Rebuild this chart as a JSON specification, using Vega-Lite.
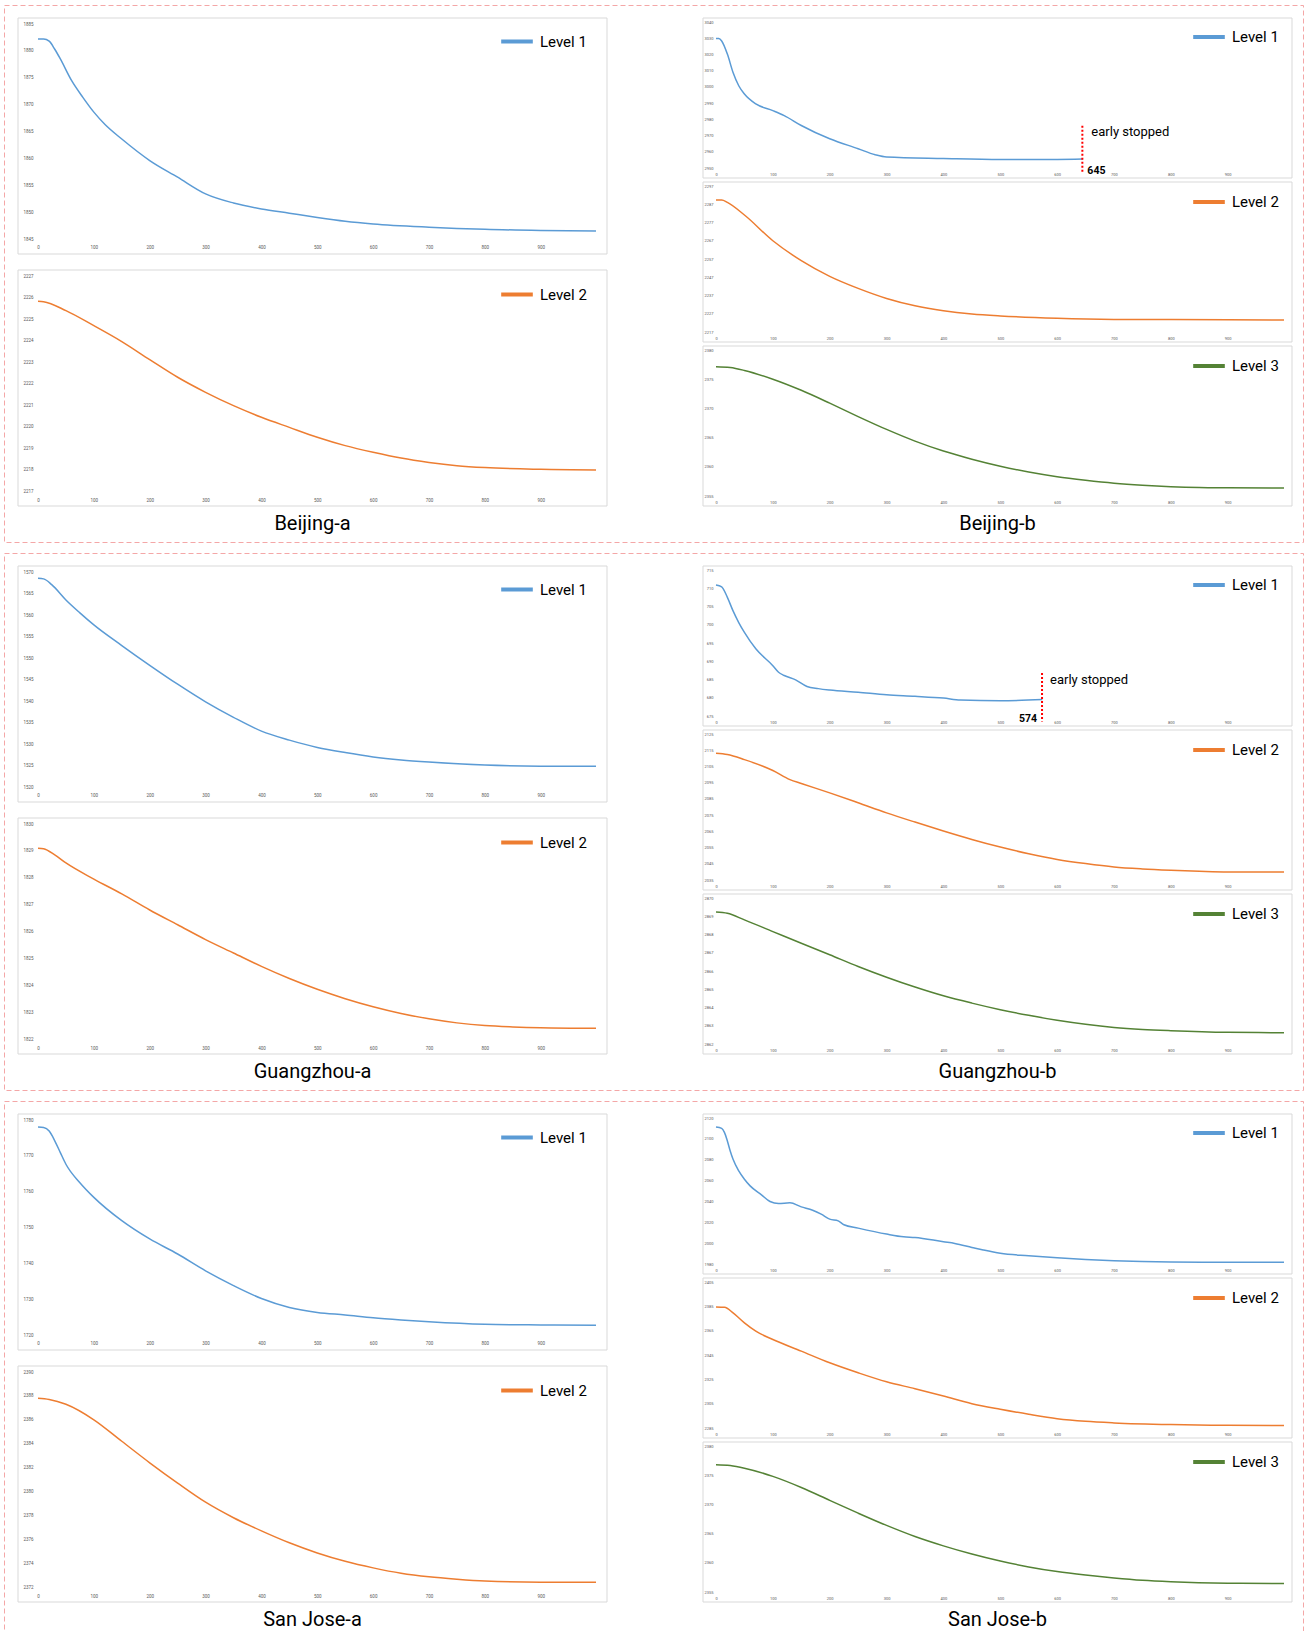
{
  "$schema": "https://vega.github.io/schema/vega-lite/v6.json",
  "background": "white",
  "padding": {"left": 3, "top": 4, "right": 3, "bottom": 0},
  "config": {
    "font": "Roboto",
    "axis": {"ticks": false, "domain": false, "labelFontSize": 4.5, "labelColor": "#595959", "labelPadding": 2, "labelFlush": false, "labelOverlap": false, "labelBound": false},
    "axisX": {"grid": false},
    "axisY": {"grid": true, "gridColor": "#e6e6e6", "gridWidth": 1},
    "legend": {"orient": "none", "symbolType": "stroke", "symbolSize": 1000, "symbolStrokeWidth": 4, "labelFontSize": 15, "labelColor": "#000000", "labelOffset": 5, "padding": 0, "labelFont": "Roboto"},
    "line": {"interpolate": "monotone"}
  },
  "datasets": {
    "bja1": [{"iter":0,"loss":1882.2},{"iter":10,"loss":1882.2},{"iter":20,"loss":1881.8},{"iter":30,"loss":1880.3},{"iter":40,"loss":1878.5},{"iter":60,"loss":1874.5},{"iter":80,"loss":1871.4},{"iter":100,"loss":1868.6},{"iter":120,"loss":1866.3},{"iter":150,"loss":1863.6},{"iter":200,"loss":1859.6},{"iter":250,"loss":1856.5},{"iter":300,"loss":1853.4},{"iter":350,"loss":1851.7},{"iter":400,"loss":1850.6},{"iter":450,"loss":1849.8},{"iter":500,"loss":1849.0},{"iter":550,"loss":1848.3},{"iter":600,"loss":1847.8},{"iter":700,"loss":1847.2},{"iter":800,"loss":1846.8},{"iter":900,"loss":1846.6},{"iter":999,"loss":1846.5}],
    "bja2": [{"iter":0,"loss":2225.82},{"iter":10,"loss":2225.8},{"iter":50,"loss":2225.39},{"iter":100,"loss":2224.69},{"iter":150,"loss":2223.95},{"iter":200,"loss":2223.11},{"iter":250,"loss":2222.29},{"iter":300,"loss":2221.59},{"iter":350,"loss":2220.97},{"iter":400,"loss":2220.43},{"iter":450,"loss":2219.96},{"iter":500,"loss":2219.5},{"iter":550,"loss":2219.11},{"iter":600,"loss":2218.8},{"iter":650,"loss":2218.53},{"iter":700,"loss":2218.33},{"iter":750,"loss":2218.18},{"iter":800,"loss":2218.09},{"iter":900,"loss":2218.01},{"iter":999,"loss":2217.98}],
    "bjb1": [{"iter":0,"loss":3029.8},{"iter":5,"loss":3029.8},{"iter":10,"loss":3028.3},{"iter":20,"loss":3020.2},{"iter":30,"loss":3008.9},{"iter":40,"loss":3000.7},{"iter":50,"loss":2995.6},{"iter":70,"loss":2989.5},{"iter":100,"loss":2985.4},{"iter":120,"loss":2982.3},{"iter":150,"loss":2976.2},{"iter":200,"loss":2968.0},{"iter":250,"loss":2961.9},{"iter":280,"loss":2958.2},{"iter":300,"loss":2956.8},{"iter":400,"loss":2955.9},{"iter":500,"loss":2955.3},{"iter":600,"loss":2955.3},{"iter":645,"loss":2955.5}],
    "bjb2": [{"iter":0,"loss":2289.3},{"iter":10,"loss":2289.3},{"iter":20,"loss":2288.0},{"iter":50,"loss":2281.1},{"iter":100,"loss":2267.0},{"iter":150,"loss":2256.1},{"iter":200,"loss":2247.5},{"iter":250,"loss":2240.9},{"iter":300,"loss":2235.4},{"iter":350,"loss":2231.4},{"iter":400,"loss":2228.7},{"iter":450,"loss":2226.9},{"iter":500,"loss":2225.8},{"iter":600,"loss":2224.5},{"iter":700,"loss":2223.9},{"iter":800,"loss":2223.8},{"iter":999,"loss":2223.6}],
    "bjb3": [{"iter":0,"loss":2377.15},{"iter":25,"loss":2377.0},{"iter":50,"loss":2376.5},{"iter":100,"loss":2375.0},{"iter":150,"loss":2373.1},{"iter":200,"loss":2370.9},{"iter":250,"loss":2368.6},{"iter":300,"loss":2366.4},{"iter":350,"loss":2364.4},{"iter":400,"loss":2362.7},{"iter":450,"loss":2361.3},{"iter":500,"loss":2360.1},{"iter":550,"loss":2359.1},{"iter":600,"loss":2358.3},{"iter":650,"loss":2357.7},{"iter":700,"loss":2357.2},{"iter":750,"loss":2356.85},{"iter":800,"loss":2356.6},{"iter":850,"loss":2356.45},{"iter":900,"loss":2356.4},{"iter":999,"loss":2356.35}],
    "gza1": [{"iter":0,"loss":1568.55},{"iter":10,"loss":1568.4},{"iter":25,"loss":1567.0},{"iter":50,"loss":1563.5},{"iter":75,"loss":1560.5},{"iter":100,"loss":1557.7},{"iter":150,"loss":1552.9},{"iter":200,"loss":1548.3},{"iter":250,"loss":1543.9},{"iter":300,"loss":1539.8},{"iter":350,"loss":1536.2},{"iter":400,"loss":1533.0},{"iter":450,"loss":1530.9},{"iter":500,"loss":1529.2},{"iter":550,"loss":1528.0},{"iter":600,"loss":1527.0},{"iter":650,"loss":1526.3},{"iter":700,"loss":1525.8},{"iter":800,"loss":1525.1},{"iter":900,"loss":1524.85},{"iter":999,"loss":1524.8}],
    "gza2": [{"iter":0,"loss":1829.1},{"iter":10,"loss":1829.08},{"iter":30,"loss":1828.85},{"iter":50,"loss":1828.55},{"iter":100,"loss":1827.95},{"iter":150,"loss":1827.4},{"iter":200,"loss":1826.8},{"iter":250,"loss":1826.25},{"iter":300,"loss":1825.7},{"iter":350,"loss":1825.2},{"iter":400,"loss":1824.7},{"iter":450,"loss":1824.25},{"iter":500,"loss":1823.85},{"iter":550,"loss":1823.5},{"iter":600,"loss":1823.2},{"iter":650,"loss":1822.95},{"iter":700,"loss":1822.75},{"iter":750,"loss":1822.6},{"iter":800,"loss":1822.5},{"iter":850,"loss":1822.45},{"iter":900,"loss":1822.42},{"iter":999,"loss":1822.4}],
    "gzb1": [{"iter":0,"loss":710.9},{"iter":10,"loss":710.4},{"iter":20,"loss":707.5},{"iter":30,"loss":703.8},{"iter":40,"loss":700.6},{"iter":50,"loss":697.9},{"iter":70,"loss":693.4},{"iter":100,"loss":688.8},{"iter":110,"loss":687.0},{"iter":120,"loss":686.1},{"iter":140,"loss":684.9},{"iter":160,"loss":683.1},{"iter":180,"loss":682.5},{"iter":200,"loss":682.1},{"iter":250,"loss":681.5},{"iter":300,"loss":680.8},{"iter":350,"loss":680.4},{"iter":400,"loss":679.9},{"iter":430,"loss":679.4},{"iter":500,"loss":679.2},{"iter":574,"loss":679.5}],
    "gzb2": [{"iter":0,"loss":2113.1},{"iter":20,"loss":2112.3},{"iter":50,"loss":2109.2},{"iter":100,"loss":2102.5},{"iter":130,"loss":2096.9},{"iter":150,"loss":2094.5},{"iter":200,"loss":2088.7},{"iter":250,"loss":2082.6},{"iter":300,"loss":2076.4},{"iter":350,"loss":2070.7},{"iter":400,"loss":2065.2},{"iter":450,"loss":2060.0},{"iter":500,"loss":2055.3},{"iter":550,"loss":2051.2},{"iter":600,"loss":2047.7},{"iter":650,"loss":2045.1},{"iter":700,"loss":2043.0},{"iter":750,"loss":2041.8},{"iter":800,"loss":2041.0},{"iter":850,"loss":2040.4},{"iter":900,"loss":2040.0},{"iter":999,"loss":2040.0}],
    "gzb3": [{"iter":0,"loss":2869.23},{"iter":20,"loss":2869.16},{"iter":50,"loss":2868.8},{"iter":100,"loss":2868.16},{"iter":150,"loss":2867.52},{"iter":200,"loss":2866.89},{"iter":250,"loss":2866.25},{"iter":300,"loss":2865.66},{"iter":350,"loss":2865.12},{"iter":400,"loss":2864.64},{"iter":450,"loss":2864.24},{"iter":500,"loss":2863.88},{"iter":550,"loss":2863.57},{"iter":600,"loss":2863.3},{"iter":650,"loss":2863.08},{"iter":700,"loss":2862.91},{"iter":750,"loss":2862.8},{"iter":800,"loss":2862.73},{"iter":900,"loss":2862.64},{"iter":999,"loss":2862.62}],
    "sja1": [{"iter":0,"loss":1778.05},{"iter":10,"loss":1777.9},{"iter":20,"loss":1776.9},{"iter":30,"loss":1774.2},{"iter":40,"loss":1770.9},{"iter":50,"loss":1767.65},{"iter":75,"loss":1762.5},{"iter":100,"loss":1758.4},{"iter":150,"loss":1751.9},{"iter":200,"loss":1746.8},{"iter":250,"loss":1742.6},{"iter":300,"loss":1737.9},{"iter":350,"loss":1733.8},{"iter":400,"loss":1730.2},{"iter":450,"loss":1727.7},{"iter":500,"loss":1726.3},{"iter":550,"loss":1725.6},{"iter":600,"loss":1724.8},{"iter":650,"loss":1724.2},{"iter":700,"loss":1723.7},{"iter":800,"loss":1723.0},{"iter":900,"loss":1722.8},{"iter":999,"loss":1722.7}],
    "sja2": [{"iter":0,"loss":2387.8},{"iter":20,"loss":2387.7},{"iter":50,"loss":2387.3},{"iter":100,"loss":2386.0},{"iter":150,"loss":2384.2},{"iter":200,"loss":2382.4},{"iter":250,"loss":2380.7},{"iter":300,"loss":2379.1},{"iter":350,"loss":2377.8},{"iter":400,"loss":2376.7},{"iter":450,"loss":2375.7},{"iter":500,"loss":2374.85},{"iter":550,"loss":2374.15},{"iter":600,"loss":2373.6},{"iter":650,"loss":2373.15},{"iter":700,"loss":2372.85},{"iter":750,"loss":2372.65},{"iter":800,"loss":2372.5},{"iter":900,"loss":2372.4},{"iter":999,"loss":2372.4}],
    "sjb1": [{"iter":0,"loss":2111.4},{"iter":10,"loss":2110.1},{"iter":15,"loss":2106.0},{"iter":20,"loss":2098.0},{"iter":25,"loss":2088.4},{"iter":30,"loss":2080.4},{"iter":40,"loss":2069.3},{"iter":50,"loss":2061.3},{"iter":60,"loss":2054.9},{"iter":80,"loss":2046.3},{"iter":95,"loss":2039.9},{"iter":110,"loss":2038.0},{"iter":130,"loss":2038.7},{"iter":150,"loss":2034.8},{"iter":170,"loss":2031.6},{"iter":185,"loss":2027.8},{"iter":200,"loss":2023.0},{"iter":215,"loss":2021.4},{"iter":225,"loss":2017.6},{"iter":250,"loss":2014.4},{"iter":300,"loss":2008.7},{"iter":330,"loss":2006.1},{"iter":350,"loss":2005.5},{"iter":400,"loss":2001.3},{"iter":420,"loss":1999.7},{"iter":450,"loss":1995.9},{"iter":470,"loss":1993.4},{"iter":500,"loss":1990.2},{"iter":550,"loss":1987.9},{"iter":600,"loss":1986.0},{"iter":650,"loss":1984.4},{"iter":700,"loss":1983.2},{"iter":800,"loss":1981.9},{"iter":900,"loss":1981.6},{"iter":999,"loss":1981.6}],
    "sjb2": [{"iter":0,"loss":2384.5},{"iter":15,"loss":2384.2},{"iter":30,"loss":2379.6},{"iter":50,"loss":2371.4},{"iter":70,"loss":2364.6},{"iter":100,"loss":2357.7},{"iter":150,"loss":2348.2},{"iter":200,"loss":2338.6},{"iter":250,"loss":2330.4},{"iter":300,"loss":2323.0},{"iter":350,"loss":2317.3},{"iter":400,"loss":2311.3},{"iter":450,"loss":2305.0},{"iter":500,"loss":2300.4},{"iter":550,"loss":2296.3},{"iter":600,"loss":2292.7},{"iter":650,"loss":2290.5},{"iter":700,"loss":2289.2},{"iter":800,"loss":2287.8},{"iter":900,"loss":2287.2},{"iter":999,"loss":2287.0}],
    "sjb3": [{"iter":0,"loss":2376.8},{"iter":25,"loss":2376.65},{"iter":50,"loss":2376.2},{"iter":100,"loss":2374.8},{"iter":150,"loss":2372.9},{"iter":200,"loss":2370.7},{"iter":250,"loss":2368.5},{"iter":300,"loss":2366.4},{"iter":350,"loss":2364.5},{"iter":400,"loss":2362.9},{"iter":450,"loss":2361.5},{"iter":500,"loss":2360.3},{"iter":550,"loss":2359.3},{"iter":600,"loss":2358.5},{"iter":650,"loss":2357.9},{"iter":700,"loss":2357.4},{"iter":750,"loss":2357.0},{"iter":800,"loss":2356.75},{"iter":900,"loss":2356.5},{"iter":999,"loss":2356.45}]
  },
  "spacing": 9,
  "vconcat": [
    {
      "width": 1299, "height": 537,
      "view": {"stroke": "#f4a7a7", "strokeDash": [5, 3], "strokeWidth": 1},
      "resolve": {"scale": {"x": "independent", "y": "independent", "color": "independent"}, "axis": {"x": "independent", "y": "independent"}, "legend": {"color": "independent"}},
      "layer": [
        {"resolve": {"scale": {"x": "independent", "y": "independent"}},
         "layer": [
           {"data": {"values": [{}]}, "mark": {"type": "rect", "filled": false, "stroke": "#d9d9d9", "strokeWidth": 1},
            "encoding": {"x": {"datum": 0, "type": "quantitative", "scale": {"domain": [0, 1], "range": [14, 603]}, "axis": null}, "x2": {"datum": 1}, "y": {"datum": 0, "type": "quantitative", "scale": {"domain": [0, 1], "range": [249, 13]}, "axis": null}, "y2": {"datum": 1}}},
           {"data": {"name": "bja1"}, "mark": "line",
            "encoding": {
              "x": {"field": "iter", "type": "quantitative", "scale": {"domain": [0, 999], "range": [34, 592]}, "axis": {"orient": "bottom", "values": [0,100,200,300,400,500,600,700,800,900], "offset": -299.5, "title": null, "format": "d"}},
              "y": {"field": "loss", "type": "quantitative", "scale": {"domain": [1845, 1885], "range": [234, 19], "zero": false, "nice": false}, "axis": {"orient": "left", "values": [1845,1850,1855,1860,1865,1870,1875,1880,1885], "offset": -31, "title": null, "format": "d"}},
              "strokeWidth": {"value": 1.5},
              "color": {"datum": "Level 1", "scale": {"domain": ["Level 1"], "range": ["#5b9bd5"]}, "legend": {"title": null, "legendX": 495, "legendY": 18.5}}
            }}
         ]},
        {"resolve": {"scale": {"x": "independent", "y": "independent"}},
         "layer": [
           {"data": {"values": [{}]},
            "layer": [
              {"mark": {"type": "rect", "filled": false, "stroke": "#d9d9d9", "strokeWidth": 1},
               "encoding": {"x": {"datum": 0, "type": "quantitative", "scale": {"domain": [0, 1], "range": [14, 603]}, "axis": null}, "x2": {"datum": 1}, "y": {"datum": 0, "type": "quantitative", "scale": {"domain": [0, 1], "range": [501, 265]}, "axis": null}, "y2": {"datum": 1}}},
              {"mark": {"type": "text", "fontSize": 20, "baseline": "middle", "dy": 18, "color": "#000000"},
               "encoding": {"x": {"datum": 0.5, "type": "quantitative", "axis": null}, "y": {"datum": 0, "type": "quantitative", "axis": null}, "text": {"value": "Beijing-a"}}}
            ]},
           {"data": {"name": "bja2"}, "mark": "line",
            "encoding": {
              "x": {"field": "iter", "type": "quantitative", "scale": {"domain": [0, 999], "range": [34, 592]}, "axis": {"orient": "bottom", "values": [0,100,200,300,400,500,600,700,800,900], "offset": -47, "title": null, "format": "d"}},
              "y": {"field": "loss", "type": "quantitative", "scale": {"domain": [2217, 2227], "range": [486, 271], "zero": false, "nice": false}, "axis": {"orient": "left", "values": [2217,2218,2219,2220,2221,2222,2223,2224,2225,2226,2227], "offset": -31, "title": null, "format": "d"}},
              "strokeWidth": {"value": 1.5},
              "color": {"datum": "Level 2", "scale": {"domain": ["Level 2"], "range": ["#ed7d31"]}, "legend": {"title": null, "legendX": 495, "legendY": 271.5}}
            }}
         ]},
        {"resolve": {"scale": {"x": "independent", "y": "independent"}},
         "layer": [
           {"data": {"values": [{}]}, "mark": {"type": "rect", "filled": false, "stroke": "#d9d9d9", "strokeWidth": 1},
            "encoding": {"x": {"datum": 0, "type": "quantitative", "scale": {"domain": [0, 1], "range": [699, 1288]}, "axis": null}, "x2": {"datum": 1}, "y": {"datum": 0, "type": "quantitative", "scale": {"domain": [0, 1], "range": [173, 13]}, "axis": null}, "y2": {"datum": 1}}},
           {"data": {"name": "bjb1"}, "mark": "line",
            "encoding": {
              "x": {"field": "iter", "type": "quantitative", "scale": {"domain": [0, 999], "range": [712, 1280]}, "axis": {"orient": "bottom", "values": [0,100,200,300,400,500,600,700,800,900], "offset": -372, "title": null, "format": "d", "labelFontSize": 4}},
              "y": {"field": "loss", "type": "quantitative", "scale": {"domain": [2950, 3040], "range": [163, 17], "zero": false, "nice": false}, "axis": {"orient": "left", "values": [2950,2960,2970,2980,2990,3000,3010,3020,3030,3040], "offset": -711, "title": null, "format": "d", "labelFontSize": 4}},
              "strokeWidth": {"value": 1.5},
              "color": {"datum": "Level 1", "scale": {"domain": ["Level 1"], "range": ["#5b9bd5"]}, "legend": {"title": null, "legendX": 1187, "legendY": 14}}
            }},
           {"data": {"values": [{"stop": 645}]},
            "layer": [
              {"mark": {"type": "rule", "color": "#ff0000", "strokeWidth": 2, "strokeDash": [2, 2]},
               "encoding": {"x": {"field": "stop", "type": "quantitative", "scale": {"domain": [0, 999], "range": [712, 1280]}, "axis": null}, "y": {"datum": 2976, "type": "quantitative", "scale": {"domain": [2950, 3040], "range": [163, 17], "zero": false, "nice": false}, "axis": null}, "y2": {"datum": 2947}}},
              {"mark": {"type": "text", "align": "left", "baseline": "middle", "dx": 9, "fontSize": 13, "color": "#000000"},
               "encoding": {"x": {"field": "stop", "type": "quantitative", "axis": null}, "y": {"datum": 2972.5, "type": "quantitative", "axis": null}, "text": {"value": "early stopped"}}},
              {"mark": {"type": "text", "align": "left", "baseline": "middle", "dx": 5, "fontSize": 10.5, "fontWeight": "bold", "color": "#000000"},
               "encoding": {"x": {"field": "stop", "type": "quantitative", "axis": null}, "y": {"datum": 2948, "type": "quantitative", "axis": null}, "text": {"field": "stop", "type": "quantitative", "format": "d"}}}
            ]}
         ]},
        {"resolve": {"scale": {"x": "independent", "y": "independent"}},
         "layer": [
           {"data": {"values": [{}]}, "mark": {"type": "rect", "filled": false, "stroke": "#d9d9d9", "strokeWidth": 1},
            "encoding": {"x": {"datum": 0, "type": "quantitative", "scale": {"domain": [0, 1], "range": [699, 1288]}, "axis": null}, "x2": {"datum": 1}, "y": {"datum": 0, "type": "quantitative", "scale": {"domain": [0, 1], "range": [337, 177]}, "axis": null}, "y2": {"datum": 1}}},
           {"data": {"name": "bjb2"}, "mark": "line",
            "encoding": {
              "x": {"field": "iter", "type": "quantitative", "scale": {"domain": [0, 999], "range": [712, 1280]}, "axis": {"orient": "bottom", "values": [0,100,200,300,400,500,600,700,800,900], "offset": -208, "title": null, "format": "d", "labelFontSize": 4}},
              "y": {"field": "loss", "type": "quantitative", "scale": {"domain": [2217, 2297], "range": [327, 181], "zero": false, "nice": false}, "axis": {"orient": "left", "values": [2217,2227,2237,2247,2257,2267,2277,2287,2297], "offset": -711, "title": null, "format": "d", "labelFontSize": 4}},
              "strokeWidth": {"value": 1.5},
              "color": {"datum": "Level 2", "scale": {"domain": ["Level 2"], "range": ["#ed7d31"]}, "legend": {"title": null, "legendX": 1187, "legendY": 179}}
            }}
         ]},
        {"resolve": {"scale": {"x": "independent", "y": "independent"}},
         "layer": [
           {"data": {"values": [{}]},
            "layer": [
              {"mark": {"type": "rect", "filled": false, "stroke": "#d9d9d9", "strokeWidth": 1},
               "encoding": {"x": {"datum": 0, "type": "quantitative", "scale": {"domain": [0, 1], "range": [699, 1288]}, "axis": null}, "x2": {"datum": 1}, "y": {"datum": 0, "type": "quantitative", "scale": {"domain": [0, 1], "range": [501, 341]}, "axis": null}, "y2": {"datum": 1}}},
              {"mark": {"type": "text", "fontSize": 20, "baseline": "middle", "dy": 18, "color": "#000000"},
               "encoding": {"x": {"datum": 0.5, "type": "quantitative", "axis": null}, "y": {"datum": 0, "type": "quantitative", "axis": null}, "text": {"value": "Beijing-b"}}}
            ]},
           {"data": {"name": "bjb3"}, "mark": "line",
            "encoding": {
              "x": {"field": "iter", "type": "quantitative", "scale": {"domain": [0, 999], "range": [712, 1280]}, "axis": {"orient": "bottom", "values": [0,100,200,300,400,500,600,700,800,900], "offset": -44, "title": null, "format": "d", "labelFontSize": 4}},
              "y": {"field": "loss", "type": "quantitative", "scale": {"domain": [2355, 2380], "range": [491, 345], "zero": false, "nice": false}, "axis": {"orient": "left", "values": [2355,2360,2365,2370,2375,2380], "offset": -711, "title": null, "format": "d", "labelFontSize": 4}},
              "strokeWidth": {"value": 1.5},
              "color": {"datum": "Level 3", "scale": {"domain": ["Level 3"], "range": ["#548235"]}, "legend": {"title": null, "legendX": 1187, "legendY": 343}}
            }}
         ]}
      ]
    },
    {
      "width": 1299, "height": 537,
      "view": {"stroke": "#f4a7a7", "strokeDash": [5, 3], "strokeWidth": 1},
      "resolve": {"scale": {"x": "independent", "y": "independent", "color": "independent"}, "axis": {"x": "independent", "y": "independent"}, "legend": {"color": "independent"}},
      "layer": [
        {"resolve": {"scale": {"x": "independent", "y": "independent"}},
         "layer": [
           {"data": {"values": [{}]}, "mark": {"type": "rect", "filled": false, "stroke": "#d9d9d9", "strokeWidth": 1},
            "encoding": {"x": {"datum": 0, "type": "quantitative", "scale": {"domain": [0, 1], "range": [14, 603]}, "axis": null}, "x2": {"datum": 1}, "y": {"datum": 0, "type": "quantitative", "scale": {"domain": [0, 1], "range": [249, 13]}, "axis": null}, "y2": {"datum": 1}}},
           {"data": {"name": "gza1"}, "mark": "line",
            "encoding": {
              "x": {"field": "iter", "type": "quantitative", "scale": {"domain": [0, 999], "range": [34, 592]}, "axis": {"orient": "bottom", "values": [0,100,200,300,400,500,600,700,800,900], "offset": -299.5, "title": null, "format": "d"}},
              "y": {"field": "loss", "type": "quantitative", "scale": {"domain": [1520, 1570], "range": [234, 19], "zero": false, "nice": false}, "axis": {"orient": "left", "values": [1520,1525,1530,1535,1540,1545,1550,1555,1560,1565,1570], "offset": -31, "title": null, "format": "d"}},
              "strokeWidth": {"value": 1.5},
              "color": {"datum": "Level 1", "scale": {"domain": ["Level 1"], "range": ["#5b9bd5"]}, "legend": {"title": null, "legendX": 495, "legendY": 18.5}}
            }}
         ]},
        {"resolve": {"scale": {"x": "independent", "y": "independent"}},
         "layer": [
           {"data": {"values": [{}]},
            "layer": [
              {"mark": {"type": "rect", "filled": false, "stroke": "#d9d9d9", "strokeWidth": 1},
               "encoding": {"x": {"datum": 0, "type": "quantitative", "scale": {"domain": [0, 1], "range": [14, 603]}, "axis": null}, "x2": {"datum": 1}, "y": {"datum": 0, "type": "quantitative", "scale": {"domain": [0, 1], "range": [501, 265]}, "axis": null}, "y2": {"datum": 1}}},
              {"mark": {"type": "text", "fontSize": 20, "baseline": "middle", "dy": 18, "color": "#000000"},
               "encoding": {"x": {"datum": 0.5, "type": "quantitative", "axis": null}, "y": {"datum": 0, "type": "quantitative", "axis": null}, "text": {"value": "Guangzhou-a"}}}
            ]},
           {"data": {"name": "gza2"}, "mark": "line",
            "encoding": {
              "x": {"field": "iter", "type": "quantitative", "scale": {"domain": [0, 999], "range": [34, 592]}, "axis": {"orient": "bottom", "values": [0,100,200,300,400,500,600,700,800,900], "offset": -47, "title": null, "format": "d"}},
              "y": {"field": "loss", "type": "quantitative", "scale": {"domain": [1822, 1830], "range": [486, 271], "zero": false, "nice": false}, "axis": {"orient": "left", "values": [1822,1823,1824,1825,1826,1827,1828,1829,1830], "offset": -31, "title": null, "format": "d"}},
              "strokeWidth": {"value": 1.5},
              "color": {"datum": "Level 2", "scale": {"domain": ["Level 2"], "range": ["#ed7d31"]}, "legend": {"title": null, "legendX": 495, "legendY": 271.5}}
            }}
         ]},
        {"resolve": {"scale": {"x": "independent", "y": "independent"}},
         "layer": [
           {"data": {"values": [{}]}, "mark": {"type": "rect", "filled": false, "stroke": "#d9d9d9", "strokeWidth": 1},
            "encoding": {"x": {"datum": 0, "type": "quantitative", "scale": {"domain": [0, 1], "range": [699, 1288]}, "axis": null}, "x2": {"datum": 1}, "y": {"datum": 0, "type": "quantitative", "scale": {"domain": [0, 1], "range": [173, 13]}, "axis": null}, "y2": {"datum": 1}}},
           {"data": {"name": "gzb1"}, "mark": "line",
            "encoding": {
              "x": {"field": "iter", "type": "quantitative", "scale": {"domain": [0, 999], "range": [712, 1280]}, "axis": {"orient": "bottom", "values": [0,100,200,300,400,500,600,700,800,900], "offset": -372, "title": null, "format": "d", "labelFontSize": 4}},
              "y": {"field": "loss", "type": "quantitative", "scale": {"domain": [675, 715], "range": [163, 17], "zero": false, "nice": false}, "axis": {"orient": "left", "values": [675,680,685,690,695,700,705,710,715], "offset": -711, "title": null, "format": "d", "labelFontSize": 4}},
              "strokeWidth": {"value": 1.5},
              "color": {"datum": "Level 1", "scale": {"domain": ["Level 1"], "range": ["#5b9bd5"]}, "legend": {"title": null, "legendX": 1187, "legendY": 14}}
            }},
           {"data": {"values": [{"stop": 574}]},
            "layer": [
              {"mark": {"type": "rule", "color": "#ff0000", "strokeWidth": 2, "strokeDash": [2, 2]},
               "encoding": {"x": {"field": "stop", "type": "quantitative", "scale": {"domain": [0, 999], "range": [712, 1280]}, "axis": null}, "y": {"datum": 686.8, "type": "quantitative", "scale": {"domain": [675, 715], "range": [163, 17], "zero": false, "nice": false}, "axis": null}, "y2": {"datum": 673.5}}},
              {"mark": {"type": "text", "align": "left", "baseline": "middle", "dx": 8, "fontSize": 13, "color": "#000000"},
               "encoding": {"x": {"field": "stop", "type": "quantitative", "axis": null}, "y": {"datum": 684.9, "type": "quantitative", "axis": null}, "text": {"value": "early stopped"}}},
              {"mark": {"type": "text", "align": "right", "baseline": "middle", "dx": -5, "fontSize": 10.5, "fontWeight": "bold", "color": "#000000"},
               "encoding": {"x": {"field": "stop", "type": "quantitative", "axis": null}, "y": {"datum": 674.3, "type": "quantitative", "axis": null}, "text": {"field": "stop", "type": "quantitative", "format": "d"}}}
            ]}
         ]},
        {"resolve": {"scale": {"x": "independent", "y": "independent"}},
         "layer": [
           {"data": {"values": [{}]}, "mark": {"type": "rect", "filled": false, "stroke": "#d9d9d9", "strokeWidth": 1},
            "encoding": {"x": {"datum": 0, "type": "quantitative", "scale": {"domain": [0, 1], "range": [699, 1288]}, "axis": null}, "x2": {"datum": 1}, "y": {"datum": 0, "type": "quantitative", "scale": {"domain": [0, 1], "range": [337, 177]}, "axis": null}, "y2": {"datum": 1}}},
           {"data": {"name": "gzb2"}, "mark": "line",
            "encoding": {
              "x": {"field": "iter", "type": "quantitative", "scale": {"domain": [0, 999], "range": [712, 1280]}, "axis": {"orient": "bottom", "values": [0,100,200,300,400,500,600,700,800,900], "offset": -208, "title": null, "format": "d", "labelFontSize": 4}},
              "y": {"field": "loss", "type": "quantitative", "scale": {"domain": [2035, 2125], "range": [327, 181], "zero": false, "nice": false}, "axis": {"orient": "left", "values": [2035,2045,2055,2065,2075,2085,2095,2105,2115,2125], "offset": -711, "title": null, "format": "d", "labelFontSize": 4}},
              "strokeWidth": {"value": 1.5},
              "color": {"datum": "Level 2", "scale": {"domain": ["Level 2"], "range": ["#ed7d31"]}, "legend": {"title": null, "legendX": 1187, "legendY": 179}}
            }}
         ]},
        {"resolve": {"scale": {"x": "independent", "y": "independent"}},
         "layer": [
           {"data": {"values": [{}]},
            "layer": [
              {"mark": {"type": "rect", "filled": false, "stroke": "#d9d9d9", "strokeWidth": 1},
               "encoding": {"x": {"datum": 0, "type": "quantitative", "scale": {"domain": [0, 1], "range": [699, 1288]}, "axis": null}, "x2": {"datum": 1}, "y": {"datum": 0, "type": "quantitative", "scale": {"domain": [0, 1], "range": [501, 341]}, "axis": null}, "y2": {"datum": 1}}},
              {"mark": {"type": "text", "fontSize": 20, "baseline": "middle", "dy": 18, "color": "#000000"},
               "encoding": {"x": {"datum": 0.5, "type": "quantitative", "axis": null}, "y": {"datum": 0, "type": "quantitative", "axis": null}, "text": {"value": "Guangzhou-b"}}}
            ]},
           {"data": {"name": "gzb3"}, "mark": "line",
            "encoding": {
              "x": {"field": "iter", "type": "quantitative", "scale": {"domain": [0, 999], "range": [712, 1280]}, "axis": {"orient": "bottom", "values": [0,100,200,300,400,500,600,700,800,900], "offset": -44, "title": null, "format": "d", "labelFontSize": 4}},
              "y": {"field": "loss", "type": "quantitative", "scale": {"domain": [2862, 2870], "range": [491, 345], "zero": false, "nice": false}, "axis": {"orient": "left", "values": [2862,2863,2864,2865,2866,2867,2868,2869,2870], "offset": -711, "title": null, "format": "d", "labelFontSize": 4}},
              "strokeWidth": {"value": 1.5},
              "color": {"datum": "Level 3", "scale": {"domain": ["Level 3"], "range": ["#548235"]}, "legend": {"title": null, "legendX": 1187, "legendY": 343}}
            }}
         ]}
      ]
    },
    {
      "width": 1299, "height": 537,
      "view": {"stroke": "#f4a7a7", "strokeDash": [5, 3], "strokeWidth": 1},
      "resolve": {"scale": {"x": "independent", "y": "independent", "color": "independent"}, "axis": {"x": "independent", "y": "independent"}, "legend": {"color": "independent"}},
      "layer": [
        {"resolve": {"scale": {"x": "independent", "y": "independent"}},
         "layer": [
           {"data": {"values": [{}]}, "mark": {"type": "rect", "filled": false, "stroke": "#d9d9d9", "strokeWidth": 1},
            "encoding": {"x": {"datum": 0, "type": "quantitative", "scale": {"domain": [0, 1], "range": [14, 603]}, "axis": null}, "x2": {"datum": 1}, "y": {"datum": 0, "type": "quantitative", "scale": {"domain": [0, 1], "range": [249, 13]}, "axis": null}, "y2": {"datum": 1}}},
           {"data": {"name": "sja1"}, "mark": "line",
            "encoding": {
              "x": {"field": "iter", "type": "quantitative", "scale": {"domain": [0, 999], "range": [34, 592]}, "axis": {"orient": "bottom", "values": [0,100,200,300,400,500,600,700,800,900], "offset": -299.5, "title": null, "format": "d"}},
              "y": {"field": "loss", "type": "quantitative", "scale": {"domain": [1720, 1780], "range": [234, 19], "zero": false, "nice": false}, "axis": {"orient": "left", "values": [1720,1730,1740,1750,1760,1770,1780], "offset": -31, "title": null, "format": "d"}},
              "strokeWidth": {"value": 1.5},
              "color": {"datum": "Level 1", "scale": {"domain": ["Level 1"], "range": ["#5b9bd5"]}, "legend": {"title": null, "legendX": 495, "legendY": 18.5}}
            }}
         ]},
        {"resolve": {"scale": {"x": "independent", "y": "independent"}},
         "layer": [
           {"data": {"values": [{}]},
            "layer": [
              {"mark": {"type": "rect", "filled": false, "stroke": "#d9d9d9", "strokeWidth": 1},
               "encoding": {"x": {"datum": 0, "type": "quantitative", "scale": {"domain": [0, 1], "range": [14, 603]}, "axis": null}, "x2": {"datum": 1}, "y": {"datum": 0, "type": "quantitative", "scale": {"domain": [0, 1], "range": [501, 265]}, "axis": null}, "y2": {"datum": 1}}},
              {"mark": {"type": "text", "fontSize": 20, "baseline": "middle", "dy": 18, "color": "#000000"},
               "encoding": {"x": {"datum": 0.5, "type": "quantitative", "axis": null}, "y": {"datum": 0, "type": "quantitative", "axis": null}, "text": {"value": "San Jose-a"}}}
            ]},
           {"data": {"name": "sja2"}, "mark": "line",
            "encoding": {
              "x": {"field": "iter", "type": "quantitative", "scale": {"domain": [0, 999], "range": [34, 592]}, "axis": {"orient": "bottom", "values": [0,100,200,300,400,500,600,700,800,900], "offset": -47, "title": null, "format": "d"}},
              "y": {"field": "loss", "type": "quantitative", "scale": {"domain": [2372, 2390], "range": [486, 271], "zero": false, "nice": false}, "axis": {"orient": "left", "values": [2372,2374,2376,2378,2380,2382,2384,2386,2388,2390], "offset": -31, "title": null, "format": "d"}},
              "strokeWidth": {"value": 1.5},
              "color": {"datum": "Level 2", "scale": {"domain": ["Level 2"], "range": ["#ed7d31"]}, "legend": {"title": null, "legendX": 495, "legendY": 271.5}}
            }}
         ]},
        {"resolve": {"scale": {"x": "independent", "y": "independent"}},
         "layer": [
           {"data": {"values": [{}]}, "mark": {"type": "rect", "filled": false, "stroke": "#d9d9d9", "strokeWidth": 1},
            "encoding": {"x": {"datum": 0, "type": "quantitative", "scale": {"domain": [0, 1], "range": [699, 1288]}, "axis": null}, "x2": {"datum": 1}, "y": {"datum": 0, "type": "quantitative", "scale": {"domain": [0, 1], "range": [173, 13]}, "axis": null}, "y2": {"datum": 1}}},
           {"data": {"name": "sjb1"}, "mark": "line",
            "encoding": {
              "x": {"field": "iter", "type": "quantitative", "scale": {"domain": [0, 999], "range": [712, 1280]}, "axis": {"orient": "bottom", "values": [0,100,200,300,400,500,600,700,800,900], "offset": -372, "title": null, "format": "d", "labelFontSize": 4}},
              "y": {"field": "loss", "type": "quantitative", "scale": {"domain": [1980, 2120], "range": [163, 17], "zero": false, "nice": false}, "axis": {"orient": "left", "values": [1980,2000,2020,2040,2060,2080,2100,2120], "offset": -711, "title": null, "format": "d", "labelFontSize": 4}},
              "strokeWidth": {"value": 1.5},
              "color": {"datum": "Level 1", "scale": {"domain": ["Level 1"], "range": ["#5b9bd5"]}, "legend": {"title": null, "legendX": 1187, "legendY": 14}}
            }}
         ]},
        {"resolve": {"scale": {"x": "independent", "y": "independent"}},
         "layer": [
           {"data": {"values": [{}]}, "mark": {"type": "rect", "filled": false, "stroke": "#d9d9d9", "strokeWidth": 1},
            "encoding": {"x": {"datum": 0, "type": "quantitative", "scale": {"domain": [0, 1], "range": [699, 1288]}, "axis": null}, "x2": {"datum": 1}, "y": {"datum": 0, "type": "quantitative", "scale": {"domain": [0, 1], "range": [337, 177]}, "axis": null}, "y2": {"datum": 1}}},
           {"data": {"name": "sjb2"}, "mark": "line",
            "encoding": {
              "x": {"field": "iter", "type": "quantitative", "scale": {"domain": [0, 999], "range": [712, 1280]}, "axis": {"orient": "bottom", "values": [0,100,200,300,400,500,600,700,800,900], "offset": -208, "title": null, "format": "d", "labelFontSize": 4}},
              "y": {"field": "loss", "type": "quantitative", "scale": {"domain": [2285, 2405], "range": [327, 181], "zero": false, "nice": false}, "axis": {"orient": "left", "values": [2285,2305,2325,2345,2365,2385,2405], "offset": -711, "title": null, "format": "d", "labelFontSize": 4}},
              "strokeWidth": {"value": 1.5},
              "color": {"datum": "Level 2", "scale": {"domain": ["Level 2"], "range": ["#ed7d31"]}, "legend": {"title": null, "legendX": 1187, "legendY": 179}}
            }}
         ]},
        {"resolve": {"scale": {"x": "independent", "y": "independent"}},
         "layer": [
           {"data": {"values": [{}]},
            "layer": [
              {"mark": {"type": "rect", "filled": false, "stroke": "#d9d9d9", "strokeWidth": 1},
               "encoding": {"x": {"datum": 0, "type": "quantitative", "scale": {"domain": [0, 1], "range": [699, 1288]}, "axis": null}, "x2": {"datum": 1}, "y": {"datum": 0, "type": "quantitative", "scale": {"domain": [0, 1], "range": [501, 341]}, "axis": null}, "y2": {"datum": 1}}},
              {"mark": {"type": "text", "fontSize": 20, "baseline": "middle", "dy": 18, "color": "#000000"},
               "encoding": {"x": {"datum": 0.5, "type": "quantitative", "axis": null}, "y": {"datum": 0, "type": "quantitative", "axis": null}, "text": {"value": "San Jose-b"}}}
            ]},
           {"data": {"name": "sjb3"}, "mark": "line",
            "encoding": {
              "x": {"field": "iter", "type": "quantitative", "scale": {"domain": [0, 999], "range": [712, 1280]}, "axis": {"orient": "bottom", "values": [0,100,200,300,400,500,600,700,800,900], "offset": -44, "title": null, "format": "d", "labelFontSize": 4}},
              "y": {"field": "loss", "type": "quantitative", "scale": {"domain": [2355, 2380], "range": [491, 345], "zero": false, "nice": false}, "axis": {"orient": "left", "values": [2355,2360,2365,2370,2375,2380], "offset": -711, "title": null, "format": "d", "labelFontSize": 4}},
              "strokeWidth": {"value": 1.5},
              "color": {"datum": "Level 3", "scale": {"domain": ["Level 3"], "range": ["#548235"]}, "legend": {"title": null, "legendX": 1187, "legendY": 343}}
            }}
         ]}
      ]
    }
  ]
}
